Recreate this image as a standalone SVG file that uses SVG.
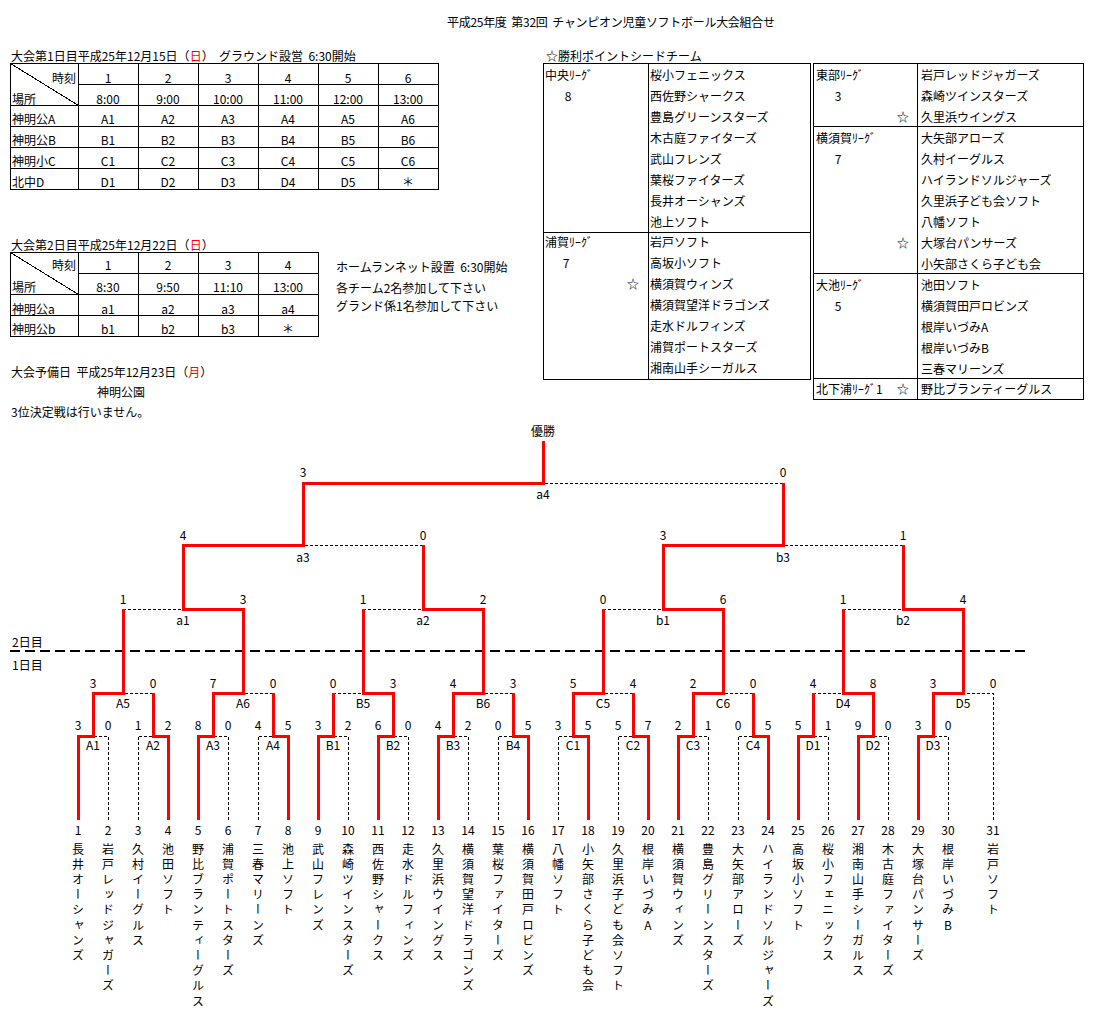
<svg xmlns="http://www.w3.org/2000/svg" width="1099" height="1030" viewBox="0 0 1099 1030">
<style>
text{font-family:"Noto Sans CJK JP","Noto Sans",sans-serif;font-size:12px;fill:#000;white-space:pre}
.c{text-anchor:middle}
.r{text-anchor:end}
.red{fill:#ff0000}
.grid{stroke:#000;stroke-width:1;fill:none;shape-rendering:crispEdges}
.win{stroke:#ff0000;stroke-width:3;fill:none;stroke-linejoin:miter;shape-rendering:crispEdges}
.lose{stroke:#000;stroke-width:1;fill:none;stroke-dasharray:3 2;shape-rendering:crispEdges}
.day{stroke:#000;stroke-width:2;stroke-dasharray:10 5;fill:none;shape-rendering:crispEdges}
.v{writing-mode:vertical-rl;text-orientation:upright;letter-spacing:3.2px}
</style>
<rect width="1099" height="1030" fill="#fff"/>

<g id="title">
<text x="447" y="27" xml:space="preserve" textLength="328" lengthAdjust="spacing">平成25年度  第32回  チャンピオン児童ソフトボール大会組合せ</text>
</g>

<g id="table-day1">
<text x="11" y="61" xml:space="preserve">大会第1日目平成25年12月15日（<tspan class="red">日</tspan>）  グラウンド設営  6:30開始</text>
<rect class="grid" x="10.5" y="63.5" width="428" height="126"/>
<path class="grid" d="M78.5 63.5V189.5M138.5 63.5V189.5M198.5 63.5V189.5M258.5 63.5V189.5M318.5 63.5V189.5M378.5 63.5V189.5M78.5 84.5H438.5M10.5 105.5H438.5M10.5 126.5H438.5M10.5 147.5H438.5M10.5 168.5H438.5M10.5 63.5L78.5 105.5"/>
<text class="r" x="76" y="82.5">時刻</text>
<text x="12" y="103.5">場所</text>
<g class="c">
<text x="108" y="82.5" class="c">1</text><text x="168" y="82.5" class="c">2</text><text x="228" y="82.5" class="c">3</text><text x="288" y="82.5" class="c">4</text><text x="348" y="82.5" class="c">5</text><text x="408" y="82.5" class="c">6</text>
<text x="108" y="103.5" class="c">8:00</text><text x="168" y="103.5" class="c">9:00</text><text x="228" y="103.5" class="c">10:00</text><text x="288" y="103.5" class="c">11:00</text><text x="348" y="103.5" class="c">12:00</text><text x="408" y="103.5" class="c">13:00</text>
<text x="108" y="123.5" class="c">A1</text><text x="168" y="123.5" class="c">A2</text><text x="228" y="123.5" class="c">A3</text><text x="288" y="123.5" class="c">A4</text><text x="348" y="123.5" class="c">A5</text><text x="408" y="123.5" class="c">A6</text>
<text x="108" y="144.5" class="c">B1</text><text x="168" y="144.5" class="c">B2</text><text x="228" y="144.5" class="c">B3</text><text x="288" y="144.5" class="c">B4</text><text x="348" y="144.5" class="c">B5</text><text x="408" y="144.5" class="c">B6</text>
<text x="108" y="165.5" class="c">C1</text><text x="168" y="165.5" class="c">C2</text><text x="228" y="165.5" class="c">C3</text><text x="288" y="165.5" class="c">C4</text><text x="348" y="165.5" class="c">C5</text><text x="408" y="165.5" class="c">C6</text>
<text x="108" y="186.5" class="c">D1</text><text x="168" y="186.5" class="c">D2</text><text x="228" y="186.5" class="c">D3</text><text x="288" y="186.5" class="c">D4</text><text x="348" y="186.5" class="c">D5</text><text x="408" y="186.5" class="c">＊</text>
</g>
<text x="12" y="123.5">神明公A</text>
<text x="12" y="144.5">神明公B</text>
<text x="12" y="165.5">神明小C</text>
<text x="12" y="186.5">北中D</text>
</g>

<g id="table-day2">
<text x="11" y="249.5">大会第2日目平成25年12月22日（<tspan class="red">日</tspan>）</text>
<rect class="grid" x="10.5" y="252.5" width="308" height="84"/>
<path class="grid" d="M78.5 252.5V336.5M138.5 252.5V336.5M198.5 252.5V336.5M258.5 252.5V336.5M78.5 273.5H318.5M10.5 294.5H318.5M10.5 315.5H318.5M10.5 252.5L78.5 294.5"/>
<text class="r" x="76" y="269.5">時刻</text>
<text x="12" y="291.5">場所</text>
<text x="108" y="269.5" class="c">1</text><text x="168" y="269.5" class="c">2</text><text x="228" y="269.5" class="c">3</text><text x="288" y="269.5" class="c">4</text>
<text x="108" y="291.5" class="c">8:30</text><text x="168" y="291.5" class="c">9:50</text><text x="228" y="291.5" class="c">11:10</text><text x="288" y="291.5" class="c">13:00</text>
<text x="12" y="313.5">神明公a</text>
<text x="108" y="313.5" class="c">a1</text><text x="168" y="313.5" class="c">a2</text><text x="228" y="313.5" class="c">a3</text><text x="288" y="313.5" class="c">a4</text>
<text x="12" y="333.5">神明公b</text>
<text x="108" y="333.5" class="c">b1</text><text x="168" y="333.5" class="c">b2</text><text x="228" y="333.5" class="c">b3</text><text x="288" y="333.5" class="c">＊</text>
</g>

<g id="notes">
<text x="336" y="272" xml:space="preserve">ホームランネット設置  6:30開始</text>
<text x="336" y="292.5">各チーム2名参加して下さい</text>
<text x="336" y="310.5">グランド係1名参加して下さい</text>
<text x="11" y="377" xml:space="preserve">大会予備日  平成25年12月23日（<tspan class="red">月</tspan>）</text>
<text x="97" y="397">神明公園</text>
<text x="11" y="417">3位決定戦は行いません。</text>
</g>

<g id="seed-table">
<text x="546" y="61">☆勝利ポイントシードチーム</text>
<rect class="grid" x="543.5" y="63.5" width="267" height="316"/>
<path class="grid" d="M648.5 63.5V379.5M543.5 232.5H810.5"/>
<text x="545" y="80">中央ﾘｰｸﾞ</text>
<text x="568" y="101" class="c">8</text>
<text x="650" y="80">桜小フェニックス</text>
<text x="650" y="101">西佐野シャークス</text>
<text x="650" y="122">豊島グリーンスターズ</text>
<text x="650" y="143">木古庭ファイターズ</text>
<text x="650" y="164">武山フレンズ</text>
<text x="650" y="185">葉桜ファイターズ</text>
<text x="650" y="206">長井オーシャンズ</text>
<text x="650" y="227">池上ソフト</text>
<text x="545" y="247">浦賀ﾘｰｸﾞ</text>
<text x="566" y="268" class="c">7</text>
<text x="633" y="289" class="c">☆</text>
<text x="650" y="247">岩戸ソフト</text>
<text x="650" y="268">高坂小ソフト</text>
<text x="650" y="289">横須賀ウィンズ</text>
<text x="650" y="310">横須賀望洋ドラゴンズ</text>
<text x="650" y="331">走水ドルフィンズ</text>
<text x="650" y="352">浦賀ポートスターズ</text>
<text x="650" y="373">湘南山手シーガルス</text>

<rect class="grid" x="813.5" y="63.5" width="270" height="336"/>
<path class="grid" d="M917.5 63.5V399.5M813.5 126.5H1083.5M813.5 273.5H1083.5M813.5 378.5H1083.5"/>
<text x="816" y="80">東部ﾘｰｸﾞ</text>
<text x="838" y="101" class="c">3</text>
<text x="903" y="122" class="c">☆</text>
<text x="921" y="80">岩戸レッドジャガーズ</text>
<text x="921" y="101">森崎ツインスターズ</text>
<text x="921" y="122">久里浜ウイングス</text>
<text x="816" y="143">横須賀ﾘｰｸﾞ</text>
<text x="838" y="164" class="c">7</text>
<text x="903" y="248" class="c">☆</text>
<text x="921" y="143">大矢部アローズ</text>
<text x="921" y="164">久村イーグルス</text>
<text x="921" y="185">ハイランドソルジャーズ</text>
<text x="921" y="206">久里浜子ども会ソフト</text>
<text x="921" y="227">八幡ソフト</text>
<text x="921" y="248">大塚台パンサーズ</text>
<text x="921" y="269">小矢部さくら子ども会</text>
<text x="816" y="290">大池ﾘｰｸﾞ</text>
<text x="838" y="311" class="c">5</text>
<text x="921" y="290">池田ソフト</text>
<text x="921" y="311">横須賀田戸ロビンズ</text>
<text x="921" y="332">根岸いづみA</text>
<text x="921" y="353">根岸いづみB</text>
<text x="921" y="374">三春マリーンズ</text>
<text x="816" y="394">北下浦ﾘｰｸﾞ1</text>
<text x="903" y="394" class="c">☆</text>
<text x="921" y="394">野比ブランティーグルス</text>
</g>

<g id="day-divider">
<line class="day" x1="10" y1="651" x2="1025" y2="651"/>
<text x="12" y="647">2日目</text>
<text x="12" y="669.5">1日目</text>
</g>

<g id="connectors">
<g class="lose-lines">
<polyline class="lose" points="108,820 108,736 93,736"/>
<polyline class="lose" points="138,820 138,736 153,736"/>
<polyline class="lose" points="228,820 228,736 213,736"/>
<polyline class="lose" points="258,820 258,736 273,736"/>
<polyline class="lose" points="348,820 348,736 333,736"/>
<polyline class="lose" points="408,820 408,736 393,736"/>
<polyline class="lose" points="468,820 468,736 453,736"/>
<polyline class="lose" points="498,820 498,736 513,736"/>
<polyline class="lose" points="558,820 558,736 573,736"/>
<polyline class="lose" points="618,820 618,736 633,736"/>
<polyline class="lose" points="708,820 708,736 693,736"/>
<polyline class="lose" points="738,820 738,736 753,736"/>
<polyline class="lose" points="828,820 828,736 813,736"/>
<polyline class="lose" points="888,820 888,736 873,736"/>
<polyline class="lose" points="948,820 948,736 933,736"/>
<polyline class="lose" points="993,820 993,693 963,693"/>
<polyline class="lose" points="153,693 123,693"/>
<polyline class="lose" points="273,693 243,693"/>
<polyline class="lose" points="333,693 363,693"/>
<polyline class="lose" points="513,693 483,693"/>
<polyline class="lose" points="633,693 603,693"/>
<polyline class="lose" points="753,693 723,693"/>
<polyline class="lose" points="813,693 843,693"/>
<polyline class="lose" points="123,609 183,609"/>
<polyline class="lose" points="363,609 423,609"/>
<polyline class="lose" points="603,609 663,609"/>
<polyline class="lose" points="843,609 903,609"/>
<polyline class="lose" points="423,545 303,545"/>
<polyline class="lose" points="903,545 783,545"/>
<polyline class="lose" points="783,483 543,483"/>
</g>
<g class="win-lines">
<polyline class="win" points="78,820 78,736 93,736 93,693 123,693 123,609"/>
<polyline class="win" points="168,820 168,736 153,736 153,693"/>
<polyline class="win" points="198,820 198,736 213,736 213,693 243,693 243,609 183,609 183,545 303,545 303,483 543,483 543,441"/>
<polyline class="win" points="288,820 288,736 273,736 273,693"/>
<polyline class="win" points="318,820 318,736 333,736 333,693"/>
<polyline class="win" points="378,820 378,736 393,736 393,693 363,693 363,609"/>
<polyline class="win" points="438,820 438,736 453,736 453,693 483,693 483,609 423,609 423,545"/>
<polyline class="win" points="528,820 528,736 513,736 513,693"/>
<polyline class="win" points="588,820 588,736 573,736 573,693 603,693 603,609"/>
<polyline class="win" points="648,820 648,736 633,736 633,693"/>
<polyline class="win" points="678,820 678,736 693,736 693,693 723,693 723,609 663,609 663,545 783,545 783,483"/>
<polyline class="win" points="768,820 768,736 753,736 753,693"/>
<polyline class="win" points="798,820 798,736 813,736 813,693"/>
<polyline class="win" points="858,820 858,736 873,736 873,693 843,693 843,609"/>
<polyline class="win" points="918,820 918,736 933,736 933,693 963,693 963,609 903,609 903,545"/>
</g>
</g>

<g id="champion"><text x="543" y="435.5" class="c">優勝</text></g>

<g id="matches">
<g id="m-a4"><text x="543" y="498.5" class="c">a4</text><text x="303" y="477" class="c">3</text><text x="783" y="477" class="c">0</text></g>
<g id="m-a3"><text x="303" y="561.5" class="c">a3</text><text x="183" y="540" class="c">4</text><text x="423" y="540" class="c">0</text></g>
<g id="m-b3"><text x="783" y="561.5" class="c">b3</text><text x="663" y="540" class="c">3</text><text x="903" y="540" class="c">1</text></g>
<g id="m-a1"><text x="183" y="624.5" class="c">a1</text><text x="123" y="603.5" class="c">1</text><text x="243" y="603.5" class="c">3</text></g>
<g id="m-a2"><text x="423" y="624.5" class="c">a2</text><text x="363" y="603.5" class="c">1</text><text x="483" y="603.5" class="c">2</text></g>
<g id="m-b1"><text x="663" y="624.5" class="c">b1</text><text x="603" y="603.5" class="c">0</text><text x="723" y="603.5" class="c">6</text></g>
<g id="m-b2"><text x="903" y="624.5" class="c">b2</text><text x="843" y="603.5" class="c">1</text><text x="963" y="603.5" class="c">4</text></g>
<g id="m-A5"><text x="123" y="707.5" class="c">A5</text><text x="93" y="687.5" class="c">3</text><text x="153" y="687.5" class="c">0</text></g>
<g id="m-A6"><text x="243" y="707.5" class="c">A6</text><text x="213" y="687.5" class="c">7</text><text x="273" y="687.5" class="c">0</text></g>
<g id="m-B5"><text x="363" y="707.5" class="c">B5</text><text x="333" y="687.5" class="c">0</text><text x="393" y="687.5" class="c">3</text></g>
<g id="m-B6"><text x="483" y="707.5" class="c">B6</text><text x="453" y="687.5" class="c">4</text><text x="513" y="687.5" class="c">3</text></g>
<g id="m-C5"><text x="603" y="707.5" class="c">C5</text><text x="573" y="687.5" class="c">5</text><text x="633" y="687.5" class="c">4</text></g>
<g id="m-C6"><text x="723" y="707.5" class="c">C6</text><text x="693" y="687.5" class="c">2</text><text x="753" y="687.5" class="c">0</text></g>
<g id="m-D4"><text x="843" y="707.5" class="c">D4</text><text x="813" y="687.5" class="c">4</text><text x="873" y="687.5" class="c">8</text></g>
<g id="m-D5"><text x="963" y="707.5" class="c">D5</text><text x="933" y="687.5" class="c">3</text><text x="993" y="687.5" class="c">0</text></g>
<g id="m-A1"><text x="93" y="749.5" class="c">A1</text><text x="78" y="729.5" class="c">3</text><text x="108" y="729.5" class="c">0</text></g>
<g id="m-A2"><text x="153" y="749.5" class="c">A2</text><text x="138" y="729.5" class="c">1</text><text x="168" y="729.5" class="c">2</text></g>
<g id="m-A3"><text x="213" y="749.5" class="c">A3</text><text x="198" y="729.5" class="c">8</text><text x="228" y="729.5" class="c">0</text></g>
<g id="m-A4"><text x="273" y="749.5" class="c">A4</text><text x="258" y="729.5" class="c">4</text><text x="288" y="729.5" class="c">5</text></g>
<g id="m-B1"><text x="333" y="749.5" class="c">B1</text><text x="318" y="729.5" class="c">3</text><text x="348" y="729.5" class="c">2</text></g>
<g id="m-B2"><text x="393" y="749.5" class="c">B2</text><text x="378" y="729.5" class="c">6</text><text x="408" y="729.5" class="c">0</text></g>
<g id="m-B3"><text x="453" y="749.5" class="c">B3</text><text x="438" y="729.5" class="c">4</text><text x="468" y="729.5" class="c">2</text></g>
<g id="m-B4"><text x="513" y="749.5" class="c">B4</text><text x="498" y="729.5" class="c">0</text><text x="528" y="729.5" class="c">5</text></g>
<g id="m-C1"><text x="573" y="749.5" class="c">C1</text><text x="558" y="729.5" class="c">3</text><text x="588" y="729.5" class="c">5</text></g>
<g id="m-C2"><text x="633" y="749.5" class="c">C2</text><text x="618" y="729.5" class="c">5</text><text x="648" y="729.5" class="c">7</text></g>
<g id="m-C3"><text x="693" y="749.5" class="c">C3</text><text x="678" y="729.5" class="c">2</text><text x="708" y="729.5" class="c">1</text></g>
<g id="m-C4"><text x="753" y="749.5" class="c">C4</text><text x="738" y="729.5" class="c">0</text><text x="768" y="729.5" class="c">5</text></g>
<g id="m-D1"><text x="813" y="749.5" class="c">D1</text><text x="798" y="729.5" class="c">5</text><text x="828" y="729.5" class="c">1</text></g>
<g id="m-D2"><text x="873" y="749.5" class="c">D2</text><text x="858" y="729.5" class="c">9</text><text x="888" y="729.5" class="c">0</text></g>
<g id="m-D3"><text x="933" y="749.5" class="c">D3</text><text x="918" y="729.5" class="c">3</text><text x="948" y="729.5" class="c">0</text></g>
</g>

<g id="teams">
<g id="t1"><text x="78" y="834.5" class="c">1</text><text x="78" y="843" class="v">長井オーシャンズ</text></g>
<g id="t2"><text x="108" y="834.5" class="c">2</text><text x="108" y="843" class="v">岩戸レッドジャガーズ</text></g>
<g id="t3"><text x="138" y="834.5" class="c">3</text><text x="138" y="843" class="v">久村イーグルス</text></g>
<g id="t4"><text x="168" y="834.5" class="c">4</text><text x="168" y="843" class="v">池田ソフト</text></g>
<g id="t5"><text x="198" y="834.5" class="c">5</text><text x="198" y="843" class="v">野比ブランティーグルス</text></g>
<g id="t6"><text x="228" y="834.5" class="c">6</text><text x="228" y="843" class="v">浦賀ポートスターズ</text></g>
<g id="t7"><text x="258" y="834.5" class="c">7</text><text x="258" y="843" class="v">三春マリーンズ</text></g>
<g id="t8"><text x="288" y="834.5" class="c">8</text><text x="288" y="843" class="v">池上ソフト</text></g>
<g id="t9"><text x="318" y="834.5" class="c">9</text><text x="318" y="843" class="v">武山フレンズ</text></g>
<g id="t10"><text x="348" y="834.5" class="c">10</text><text x="348" y="843" class="v">森崎ツインスターズ</text></g>
<g id="t11"><text x="378" y="834.5" class="c">11</text><text x="378" y="843" class="v">西佐野シャークス</text></g>
<g id="t12"><text x="408" y="834.5" class="c">12</text><text x="408" y="843" class="v">走水ドルフィンズ</text></g>
<g id="t13"><text x="438" y="834.5" class="c">13</text><text x="438" y="843" class="v">久里浜ウイングス</text></g>
<g id="t14"><text x="468" y="834.5" class="c">14</text><text x="468" y="843" class="v">横須賀望洋ドラゴンズ</text></g>
<g id="t15"><text x="498" y="834.5" class="c">15</text><text x="498" y="843" class="v">葉桜ファイターズ</text></g>
<g id="t16"><text x="528" y="834.5" class="c">16</text><text x="528" y="843" class="v">横須賀田戸ロビンズ</text></g>
<g id="t17"><text x="558" y="834.5" class="c">17</text><text x="558" y="843" class="v">八幡ソフト</text></g>
<g id="t18"><text x="588" y="834.5" class="c">18</text><text x="588" y="843" class="v">小矢部さくら子ども会</text></g>
<g id="t19"><text x="618" y="834.5" class="c">19</text><text x="618" y="843" class="v">久里浜子ども会ソフト</text></g>
<g id="t20"><text x="648" y="834.5" class="c">20</text><text x="648" y="843" class="v">根岸いづみA</text></g>
<g id="t21"><text x="678" y="834.5" class="c">21</text><text x="678" y="843" class="v">横須賀ウィンズ</text></g>
<g id="t22"><text x="708" y="834.5" class="c">22</text><text x="708" y="843" class="v">豊島グリーンスターズ</text></g>
<g id="t23"><text x="738" y="834.5" class="c">23</text><text x="738" y="843" class="v">大矢部アローズ</text></g>
<g id="t24"><text x="768" y="834.5" class="c">24</text><text x="768" y="843" class="v">ハイランドソルジャーズ</text></g>
<g id="t25"><text x="798" y="834.5" class="c">25</text><text x="798" y="843" class="v">高坂小ソフト</text></g>
<g id="t26"><text x="828" y="834.5" class="c">26</text><text x="828" y="843" class="v">桜小フェニックス</text></g>
<g id="t27"><text x="858" y="834.5" class="c">27</text><text x="858" y="843" class="v">湘南山手シーガルス</text></g>
<g id="t28"><text x="888" y="834.5" class="c">28</text><text x="888" y="843" class="v">木古庭ファイターズ</text></g>
<g id="t29"><text x="918" y="834.5" class="c">29</text><text x="918" y="843" class="v">大塚台パンサーズ</text></g>
<g id="t30"><text x="948" y="834.5" class="c">30</text><text x="948" y="843" class="v">根岸いづみB</text></g>
<g id="t31"><text x="993" y="834.5" class="c">31</text><text x="993" y="843" class="v">岩戸ソフト</text></g>
</g>
</svg>
